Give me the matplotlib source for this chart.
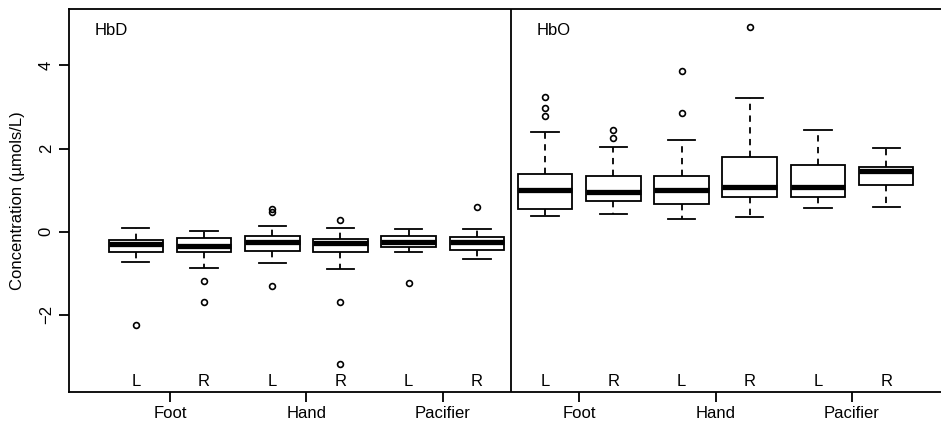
import matplotlib
matplotlib.use("Agg")
import matplotlib.pyplot as plt

plt.rcParams['font.family'] = ['Liberation Sans', 'DejaVu Sans']

sides = ["L", "R", "L", "R", "L", "R", "L", "R", "L", "R", "L", "R"]
groups = ["Foot", "Hand", "Pacifier", "Foot", "Hand", "Pacifier"]
panels = ["HbD", "HbO"]

whislo = [-0.74, -0.87, -0.76, -0.89, -0.50, -0.65, 0.38, 0.42, 0.30, 0.35, 0.58, 0.60]
q1 = [-0.48, -0.48, -0.46, -0.48, -0.38, -0.45, 0.55, 0.75, 0.67, 0.83, 0.84, 1.12]
med = [-0.30, -0.35, -0.26, -0.27, -0.25, -0.26, 1.01, 0.95, 1.01, 1.08, 1.08, 1.46]
q3 = [-0.21, -0.16, -0.10, -0.18, -0.10, -0.12, 1.38, 1.33, 1.33, 1.80, 1.60, 1.56]
whishi = [0.08, 0.02, 0.14, 0.08, 0.06, 0.06, 2.39, 2.04, 2.21, 3.21, 2.44, 2.02]
fliers = [
    [-2.24],
    [-1.19, -1.68],
    [0.54, 0.48, -1.31],
    [0.28, -1.68, -3.18],
    [-1.23],
    [0.59],
    [3.25, 2.97, 2.79],
    [2.44, 2.26],
    [3.86, 2.86],
    [4.92],
    [],
    [],
]

stats = []
for i in range(len(med)):
    stats.append(dict(whislo=whislo[i], q1=q1[i], med=med[i], q3=q3[i],
                      whishi=whishi[i], fliers=fliers[i]))

fig = plt.figure(figsize=(9.41, 4.24), dpi=100)
ax = fig.add_axes([69/941, 32.3/424, (953-69)/941, (391.7-9.3)/424])

positions = list(range(1, len(med) + 1))
lw = 1.3
ax.bxp(stats, positions=positions, widths=0.8, patch_artist=True,
       boxprops=dict(facecolor='white', edgecolor='black', linewidth=lw),
       medianprops=dict(color='black', linewidth=3.8, solid_capstyle='butt'),
       whiskerprops=dict(color='black', linewidth=lw, linestyle=(0, (3.5, 3))),
       capprops=dict(color='black', linewidth=lw),
       capwidths=0.4,
       flierprops=dict(marker='o', markerfacecolor='none', markeredgecolor='black',
                       markersize=4.2, markeredgewidth=1.2, linestyle='none'),
       manage_ticks=False)

ax.set_xlim(0.02, 12.98)
ax.set_ylim(-3.85, 5.35)
ax.axvline(6.5, color='black', linewidth=lw)

# group ticks
gpos = [1.5, 3.5, 5.5, 7.5, 9.5, 11.5]
ax.set_xticks(gpos)
ax.set_xticklabels(groups, fontsize=12)
ax.set_yticks([-2, 0, 2, 4])
ax.set_yticklabels(["−2", "0", "2", "4"], fontsize=12, rotation=90, va='center')
ax.tick_params(axis='both', length=7, width=lw, color='black')
ax.tick_params(axis='x', pad=3)
ax.tick_params(axis='y', pad=4)

for p, s in zip(positions, sides):
    ax.text(p, -3.6, s, ha='center', va='center', fontsize=12)

ax.text(0.40, 4.85, panels[0], ha='left', va='center', fontsize=12)
ax.text(6.88, 4.85, panels[1], ha='left', va='center', fontsize=12)

ax.set_ylabel("Concentration (µmols/L)", fontsize=12, labelpad=10)

for sp in ax.spines.values():
    sp.set_linewidth(lw)

fig.savefig("out.png", dpi=100)
